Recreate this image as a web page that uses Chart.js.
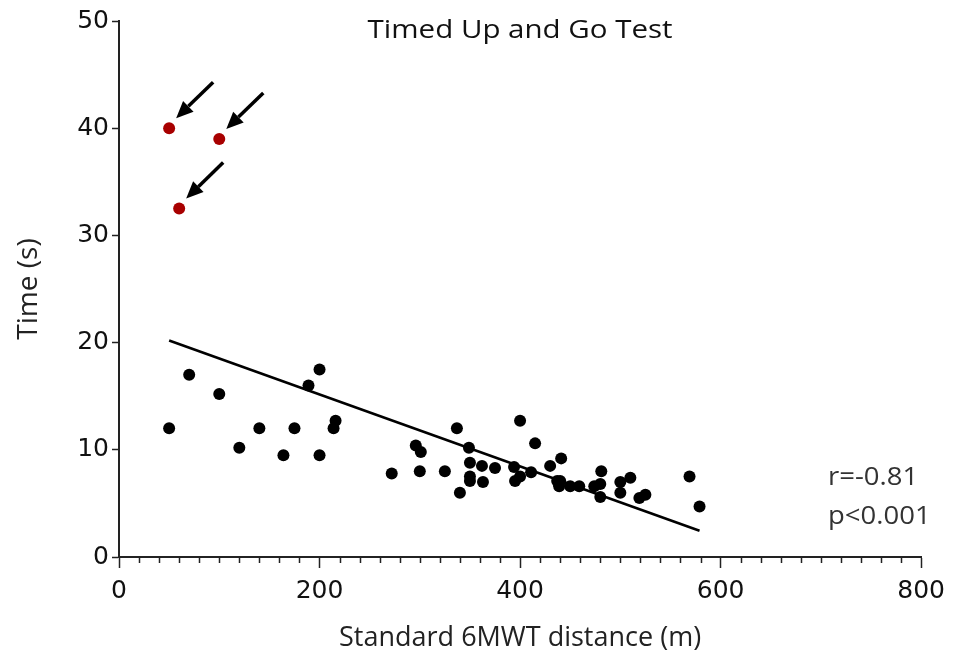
<!DOCTYPE html>
<html>
<head>
<meta charset="utf-8">
<script src="https://cdn.jsdelivr.net/npm/chart.js@4.4.1/dist/chart.umd.min.js"></script>
<style>
  html, body { margin: 0; padding: 0; background: #fff; }
  #wrap { width: 953px; height: 657px; }
</style>
</head>
<body>
<div id="wrap"><canvas id="mycanvas"></canvas></div>
<script>
// 6MWT distance (m) vs TUG time (s)
var distance = [50, 70, 100, 120, 140, 164, 175, 189, 200, 200, 214, 216, 272, 296, 301, 300, 325, 337, 340, 349,
  350, 350, 350, 362, 363, 375, 394, 395, 400, 400, 411, 415, 430, 441, 437, 439, 440, 450, 459, 474,
  480, 481, 480, 500, 500, 510, 519, 525, 569, 579];
var time = [12, 17, 15.2, 10.2, 12, 9.5, 12, 16, 17.5, 9.5, 12, 12.7, 7.8, 10.4, 9.8, 8, 8, 12, 6, 10.2,
  8.8, 7.5, 7.1, 8.5, 7, 8.3, 8.4, 7.1, 7.5, 12.7, 7.9, 10.6, 8.5, 9.2, 7.1, 6.6, 7.1, 6.6, 6.6, 6.6,
  6.8, 8, 5.6, 7, 6, 7.4, 5.5, 5.8, 7.5, 4.7];

// outliers (marked with arrows)
var outlierDistance = [50, 100, 60];
var outlierTime = [40, 39, 32.5];

// regression line end points
var fitDistance = [50, 579];
var fitTime = [20.2, 2.45];

var xTicks = [0, 200, 400, 600, 800];
var yTicks = [0, 10, 20, 30, 40, 50];

var chartTitle = 'Timed Up and Go Test';
var statLines = ['r=-0.81', 'p<0.001'];

function toPoints(xs, ys) {
  var pts = [];
  for (var i = 0; i < xs.length; i++) pts.push({x: xs[i], y: ys[i]});
  return pts;
}

var axisColor = '#222';
var mainFont = '"Open Sans", sans-serif';
var tickFont = '"DejaVu Sans", sans-serif';

// text drawn a bit wider than the font, like the original figure
function wideText(ctx, text, x, y, size, stretch, align) {
  ctx.save();
  ctx.font = size + 'px ' + mainFont;
  var w = ctx.measureText(text).width * stretch;
  var left = align === 'center' ? x - w / 2 : x;
  ctx.translate(left, y);
  ctx.scale(stretch, 1);
  ctx.textAlign = 'left';
  ctx.textBaseline = 'alphabetic';
  ctx.fillText(text, 0, 0);
  ctx.restore();
}

var extras = {
  id: 'extras',
  afterDraw: function(chart) {
    var ctx = chart.ctx;
    var xs = chart.scales.x, ys = chart.scales.y;
    var area = chart.chartArea;
    ctx.save();

    // minor ticks on x axis every 20
    ctx.strokeStyle = axisColor;
    ctx.lineWidth = 1.5;
    for (var v = 20; v < 800; v += 20) {
      if (v % 200 === 0) continue;
      var px = Math.round(xs.getPixelForValue(v)) + 0.5;
      ctx.beginPath();
      ctx.moveTo(px, area.bottom);
      ctx.lineTo(px, area.bottom + 6);
      ctx.stroke();
    }

    // title
    ctx.fillStyle = '#111';
    wideText(ctx, chartTitle, xs.getPixelForValue(400), 38, 25, 1.18, 'center');

    // r and p
    ctx.fillStyle = '#333';
    wideText(ctx, statLines[0], 828, 485, 25, 1.1, 'left');
    wideText(ctx, statLines[1], 828, 524, 25, 1.1, 'left');

    // arrows pointing at the outliers
    ctx.fillStyle = '#000';
    ctx.strokeStyle = '#000';
    ctx.lineWidth = 3.5;
    for (var i = 0; i < outlierDistance.length; i++) {
      var ptx = xs.getPixelForValue(outlierDistance[i]);
      var pty = ys.getPixelForValue(outlierTime[i]);
      var tipX = ptx + 7, tipY = pty - 10;
      var tailX = ptx + 44, tailY = pty - 46;
      var ang = Math.atan2(tipY - tailY, tipX - tailX);
      var headLen = 17, headW = 7.5;
      var bx = tipX - headLen * Math.cos(ang), by = tipY - headLen * Math.sin(ang);
      ctx.beginPath();
      ctx.moveTo(tailX, tailY);
      ctx.lineTo(bx, by);
      ctx.stroke();
      ctx.beginPath();
      ctx.moveTo(tipX, tipY);
      ctx.lineTo(bx + headW * Math.sin(ang), by - headW * Math.cos(ang));
      ctx.lineTo(bx - headW * Math.sin(ang), by + headW * Math.cos(ang));
      ctx.closePath();
      ctx.fill();
    }
    ctx.restore();
  }
};

var ctx = document.getElementById('mycanvas');
var chart = new Chart(ctx, {
  type: 'scatter',
  data: {
    datasets: [
      {
        type: 'line',
        label: 'fit',
        data: toPoints(fitDistance, fitTime),
        borderColor: '#000',
        borderWidth: 2.5,
        pointRadius: 0,
        fill: false,
        order: 3
      },
      {
        label: 'patients',
        data: toPoints(distance, time),
        backgroundColor: '#000',
        borderWidth: 0,
        pointRadius: 6,
        order: 2
      },
      {
        label: 'outliers',
        data: toPoints(outlierDistance, outlierTime),
        backgroundColor: '#a80000',
        borderWidth: 0,
        pointRadius: 6,
        order: 1
      }
    ]
  },
  options: {
    responsive: true,
    maintainAspectRatio: false,
    animation: false,
    layout: { padding: { left: 0, right: 31, top: 21, bottom: 0 } },
    plugins: {
      legend: { display: false },
      tooltip: { enabled: false }
    },
    scales: {
      x: {
        type: 'linear',
        min: 0,
        max: 800,
        afterBuildTicks: function(scale) {
          scale.ticks = xTicks.map(function(v) { return {value: v}; });
        },
        afterFit: function(scale) { scale.height = 100; },
        grid: { drawOnChartArea: false, tickLength: 11, color: axisColor, tickWidth: 1.5 },
        border: { color: axisColor, width: 2 },
        ticks: { color: '#111', font: { family: tickFont, size: 25 }, padding: 8, maxRotation: 0 },
        title: {
          display: true,
          text: 'Standard 6MWT distance (m)',
          color: '#222',
          font: { family: mainFont, size: 27 },
          padding: { top: 0, bottom: 2 }
        }
      },
      y: {
        min: 0,
        max: 50,
        afterBuildTicks: function(scale) {
          scale.ticks = yTicks.map(function(v) { return {value: v}; });
        },
        afterFit: function(scale) { scale.width = 119; },
        grid: { drawOnChartArea: false, tickLength: 7, color: axisColor, tickWidth: 1.5 },
        border: { color: axisColor, width: 2 },
        ticks: { color: '#111', font: { family: tickFont, size: 25 }, padding: 3 },
        title: {
          display: true,
          text: 'Time (s)',
          color: '#222',
          font: { family: mainFont, size: 28 },
          padding: { top: 12, bottom: 0 }
        }
      }
    }
  },
  plugins: [extras]
});
</script>
</body>
</html>
